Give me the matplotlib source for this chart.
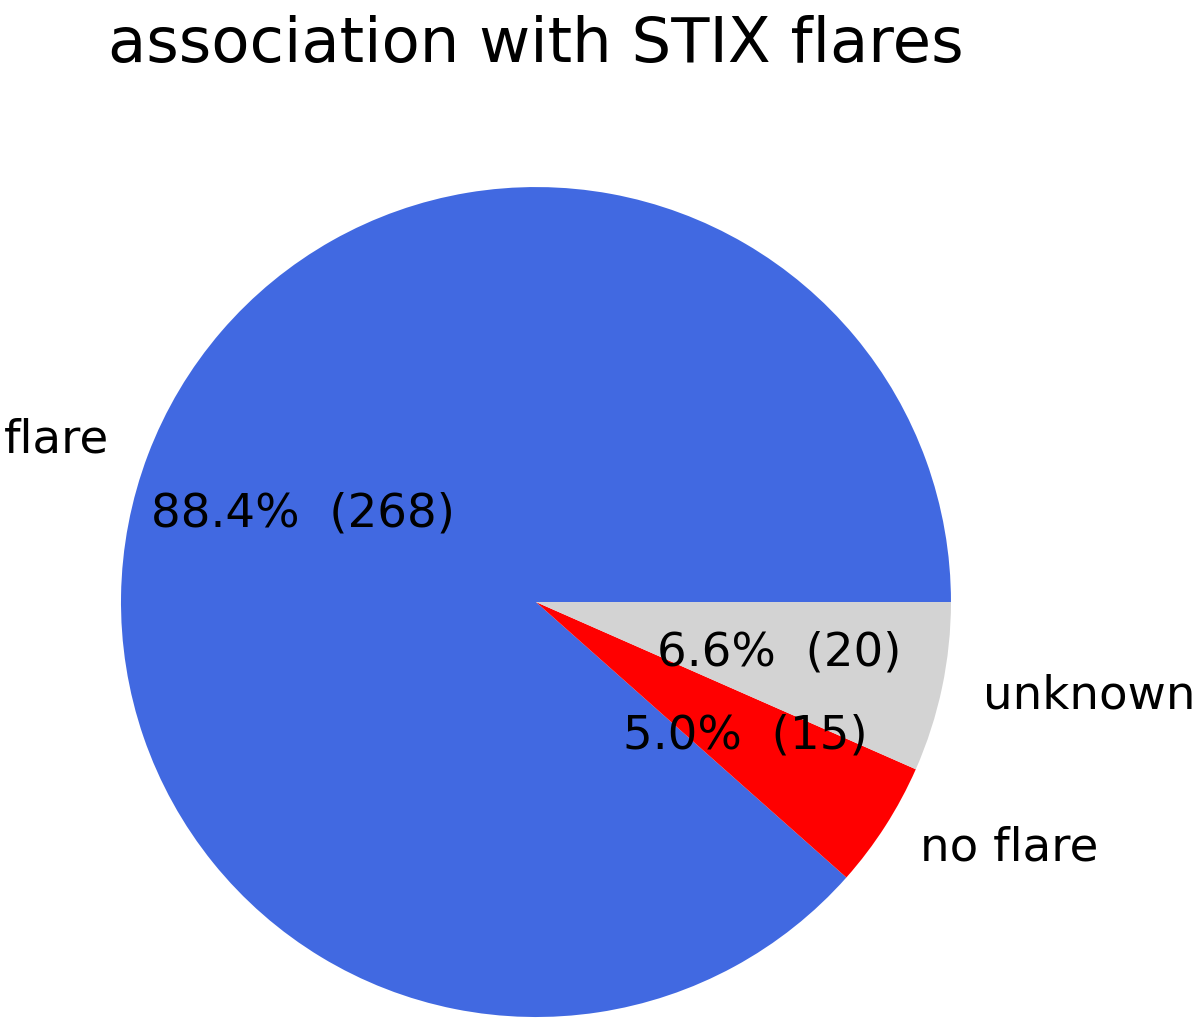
import matplotlib
matplotlib.use('Agg')
import matplotlib.pyplot as plt

labels = ['flare', 'no flare', 'unknown']
counts = [268, 15, 20]
colors = ['royalblue', 'red', 'lightgray']

total = sum(counts)


def fmt(pct):
    n = int(round(pct * total / 100.0))
    return f'{pct:.1f}%  ({n})'


fig = plt.figure(figsize=(12, 10.21), dpi=100, facecolor='white')
ax = fig.add_axes([0.1008, 0.0039, 0.6917, 0.8129])

ax.pie(counts, labels=labels, colors=colors, autopct=fmt,
       textprops={'fontsize': 33.7})
ax.set_xlim(-1, 1)
ax.set_ylim(-1, 1)

fig.text(0.4467, 0.939, 'association with STIX flares', fontsize=45,
         ha='center', va='baseline')

plt.savefig('out.png', dpi=100, facecolor='white')
plt.close()
